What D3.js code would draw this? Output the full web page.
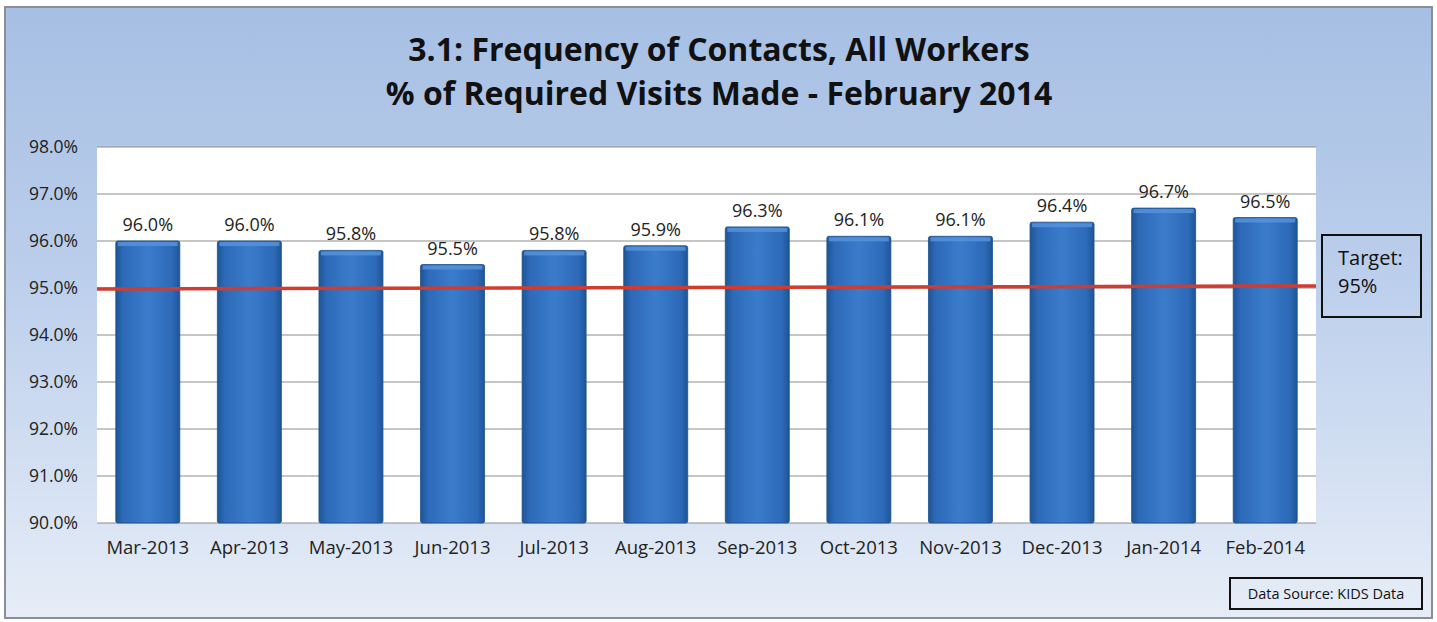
<!DOCTYPE html>
<html>
<head>
<meta charset="utf-8">
<script src="https://cdn.jsdelivr.net/npm/d3@7"></script>
<style>
  body { margin: 0; background: #fff; }
  text { font-family: "Open Sans", "DejaVu Sans", sans-serif; }
</style>
</head>
<body>
<div id="chart"></div>
<script>
// Chart data.
const months = ['Mar-2013', 'Apr-2013', 'May-2013', 'Jun-2013', 'Jul-2013', 'Aug-2013',
                'Sep-2013', 'Oct-2013', 'Nov-2013', 'Dec-2013', 'Jan-2014', 'Feb-2014'];
const visitPct = [96.0, 96.0, 95.8, 95.5, 95.8, 95.9, 96.3, 96.1, 96.1, 96.4, 96.7, 96.5];
const yTicks = [90, 91, 92, 93, 94, 95, 96, 97, 98];
const target = 95;
const titleLines = ['3.1: Frequency of Contacts, All Workers',
                    '% of Required Visits Made - February 2014'];

const width = 1437;
const height = 622;
const plot = { left: 97, right: 1316, top: 147, bottom: 523 };

const svg = d3.select('#chart')
  .append('svg')
  .attr('width', width)
  .attr('height', height);

const defs = svg.append('defs');

// Background gradient, blue at top fading to pale at the bottom.
const bg = defs.append('linearGradient')
  .attr('id', 'bg')
  .attr('x1', 0).attr('y1', 0).attr('x2', 0).attr('y2', 1);
bg.append('stop').attr('offset', '0%').attr('stop-color', '#a6bfe3');
bg.append('stop').attr('offset', '45%').attr('stop-color', '#bccfec');
bg.append('stop').attr('offset', '100%').attr('stop-color', '#e6edf7');

// Bar gradient, darker at the edges.
const barGrad = defs.append('linearGradient')
  .attr('id', 'bar')
  .attr('x1', 0).attr('y1', 0).attr('x2', 1).attr('y2', 0);
barGrad.append('stop').attr('offset', '0%').attr('stop-color', '#1d5596');
barGrad.append('stop').attr('offset', '12%').attr('stop-color', '#2d6ab8');
barGrad.append('stop').attr('offset', '50%').attr('stop-color', '#3a7ccb');
barGrad.append('stop').attr('offset', '88%').attr('stop-color', '#2d6ab8');
barGrad.append('stop').attr('offset', '100%').attr('stop-color', '#1d5596');

// Outer frame.
svg.append('rect')
  .attr('x', 5)
  .attr('y', 7)
  .attr('width', 1427)
  .attr('height', 611)
  .style('fill', 'url(#bg)')
  .style('stroke', '#8a8f96')
  .style('stroke-width', 2);

// Title.
svg.append('g')
  .selectAll('text')
  .data(titleLines)
  .enter()
  .append('text')
  .text(d => d)
  .attr('x', 719)
  .attr('y', (d, i) => 61 + i * 44)
  .style('text-anchor', 'middle')
  .style('font-size', '32px')
  .style('font-weight', 'bold')
  .style('fill', '#111');

// Scales.
const x = d3.scaleBand()
  .domain(months)
  .range([plot.left, plot.right])
  .paddingInner(0.37)
  .paddingOuter(0.185);

const y = d3.scaleLinear()
  .domain([90, 98])
  .range([plot.bottom, plot.top]);

// Plot area.
svg.append('rect')
  .attr('x', plot.left)
  .attr('y', plot.top)
  .attr('width', plot.right - plot.left)
  .attr('height', plot.bottom - plot.top)
  .style('fill', '#fff');

// Gridlines.
svg.append('g')
  .selectAll('line')
  .data(yTicks)
  .enter()
  .append('line')
  .attr('x1', plot.left)
  .attr('x2', plot.right)
  .attr('y1', d => y(d))
  .attr('y2', d => y(d))
  .style('stroke', '#8c8c8c')
  .style('stroke-width', 1);

// Y axis labels.
const yAxis = svg.append('g')
  .attr('transform', `translate(${plot.left}, 0)`)
  .call(d3.axisLeft(y).tickValues(yTicks).tickSize(0).tickPadding(19)
    .tickFormat(d => d3.format('.1f')(d) + '%'));
yAxis.select('.domain').remove();
yAxis.selectAll('text')
  .style('font-size', '17.5px')
  .style('fill', '#222');

// X axis labels.
const xAxis = svg.append('g')
  .attr('transform', `translate(0, ${plot.bottom})`)
  .call(d3.axisBottom(x).tickSize(0).tickPadding(18));
xAxis.select('.domain').remove();
xAxis.selectAll('text')
  .style('font-size', '18.5px')
  .style('fill', '#222');

// Bars.
const bars = svg.append('g')
  .selectAll('g')
  .data(visitPct)
  .enter()
  .append('g')
  .attr('transform', (d, i) => `translate(${x(months[i])}, 0)`);

bars.append('rect')
  .attr('x', 0)
  .attr('y', d => y(d))
  .attr('width', x.bandwidth())
  .attr('height', d => plot.bottom - y(d))
  .attr('rx', 2)
  .style('fill', 'url(#bar)')
  .style('stroke', '#1b4f8c')
  .style('stroke-width', 0.8);

// Lighter cap at the top of each bar.
bars.append('rect')
  .attr('x', 2)
  .attr('y', d => y(d) + 1)
  .attr('width', x.bandwidth() - 4)
  .attr('height', 4)
  .style('fill', '#5a95dc')
  .style('opacity', 0.8);

// Value labels.
bars.append('text')
  .text(d => d3.format('.1f')(d) + '%')
  .attr('x', x.bandwidth() / 2)
  .attr('y', d => y(d) - 10)
  .style('text-anchor', 'middle')
  .style('font-size', '18px')
  .style('fill', '#222');

// Target line.
svg.append('line')
  .attr('x1', plot.left)
  .attr('x2', plot.right)
  .attr('y1', y(target) + 1)
  .attr('y2', y(target) - 2)
  .style('stroke', '#d23b2f')
  .style('stroke-width', 3.5);

// Target box.
svg.append('rect')
  .attr('x', 1322)
  .attr('y', 235)
  .attr('width', 99)
  .attr('height', 82)
  .style('fill', 'none')
  .style('stroke', '#111')
  .style('stroke-width', 2);

svg.append('g')
  .selectAll('text')
  .data(['Target:', target + '%'])
  .enter()
  .append('text')
  .text(d => d)
  .attr('x', 1338)
  .attr('y', (d, i) => 265 + i * 28)
  .style('font-size', '20px')
  .style('fill', '#111');

// Data source box.
svg.append('rect')
  .attr('x', 1230)
  .attr('y', 578)
  .attr('width', 192)
  .attr('height', 31)
  .style('fill', 'none')
  .style('stroke', '#111')
  .style('stroke-width', 2);

svg.append('text')
  .text('Data Source: KIDS Data')
  .attr('x', 1326)
  .attr('y', 599)
  .style('text-anchor', 'middle')
  .style('font-size', '14.5px')
  .style('fill', '#111');
</script>
</body>
</html>
